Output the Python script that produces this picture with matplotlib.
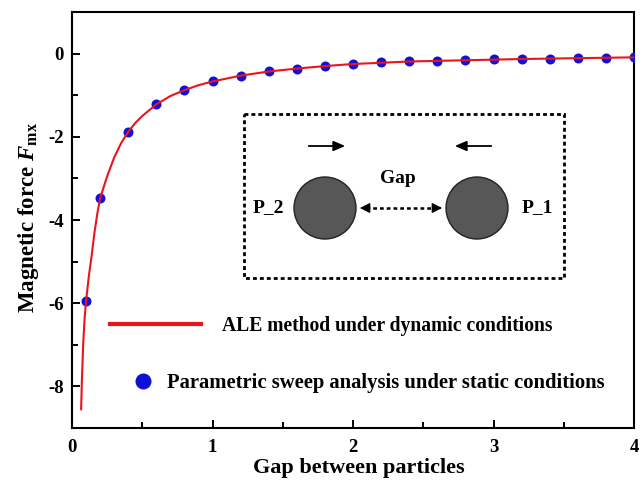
import matplotlib
matplotlib.use("Agg")
import matplotlib.pyplot as plt
from matplotlib.patches import Rectangle, Circle
from matplotlib.ticker import MultipleLocator

plt.rcParams['font.family'] = ['Liberation Serif', 'DejaVu Serif']
plt.rcParams['font.weight'] = 'bold'
plt.rcParams['axes.unicode_minus'] = False
plt.rcParams['mathtext.fontset'] = 'custom'
plt.rcParams['mathtext.rm'] = 'Liberation Serif:bold'
plt.rcParams['mathtext.bf'] = 'Liberation Serif:bold'
plt.rcParams['mathtext.it'] = 'Liberation Serif:italic:bold'

# ALE method (continuous curve) values
ale_gap = [0.065, 0.07, 0.08, 0.09, 0.1, 0.12, 0.14, 0.16, 0.18, 0.2, 0.25, 0.3,
           0.35, 0.4, 0.45, 0.5, 0.6, 0.7, 0.8, 0.9, 1.0, 1.2, 1.4, 1.6, 1.8, 2.0,
           2.4, 2.8, 3.2, 3.6, 4.0]
ale_force = [-8.55, -7.9, -6.95, -6.35, -5.95, -5.35, -4.85, -4.3, -3.85, -3.48,
             -2.95, -2.5, -2.15, -1.88, -1.67, -1.5, -1.22, -1.02, -0.88, -0.76,
             -0.67, -0.53, -0.43, -0.36, -0.30, -0.25, -0.19, -0.16, -0.13, -0.11, -0.09]

# Parametric sweep points
sweep_gap = [0.1, 0.2, 0.4, 0.6, 0.8, 1.0, 1.2, 1.4, 1.6, 1.8, 2.0, 2.2, 2.4, 2.6,
             2.8, 3.0, 3.2, 3.4, 3.6, 3.8, 4.0]
sweep_force = [-5.95, -3.48, -1.88, -1.22, -0.88, -0.67, -0.53, -0.43, -0.36, -0.29,
               -0.25, -0.21, -0.18, -0.17, -0.16, -0.14, -0.13, -0.13, -0.11, -0.10, -0.09]

W, H = 642, 486
fig = plt.figure(figsize=(W / 100, H / 100), dpi=100)
ax = fig.add_axes([72 / W, 1 - 428 / H, (634 - 72) / W, (428 - 12) / H])

pts, = ax.plot(sweep_gap, sweep_force, 'o', color='#1010d8', markersize=7.2,
               markeredgewidth=0, zorder=3,
               label='Parametric sweep analysis under static conditions')
line, = ax.plot(ale_gap, ale_force, '-', color='#e8161b', lw=1.5, zorder=4,
                label='ALE method under dynamic conditions')

ax.set_xlim(0, 4)
ax.set_ylim(-9, 1)
ax.xaxis.set_major_locator(MultipleLocator(1))
ax.xaxis.set_minor_locator(MultipleLocator(0.5))
ax.yaxis.set_major_locator(MultipleLocator(2))
ax.yaxis.set_minor_locator(MultipleLocator(1))
ax.tick_params(which='both', direction='in', width=1.4, labelsize=13.5)
ax.tick_params(which='major', length=6)
ax.tick_params(which='minor', length=4)
ax.tick_params(axis='x', which='major', pad=8)
ax.tick_params(axis='y', which='major', pad=6)
for s in ax.spines.values():
    s.set_linewidth(1.5)

ax.set_xlabel('Gap between particles', fontsize=16, fontweight='bold')
ax.set_ylabel(r'Magnetic force $\mathit{F}_{\mathbf{mx}}$', fontsize=16.5, fontweight='bold')
ax.xaxis.set_label_coords(0.51, -0.073)
ax.yaxis.set_label_coords(-0.056, 0.505)

# Legends
leg1 = ax.legend(handles=[line], loc='center left', frameon=False,
                 handlelength=4.65, handletextpad=1.05, borderpad=0, borderaxespad=0,
                 bbox_to_anchor=(110 / W, 1 - 326 / H), bbox_transform=fig.transFigure,
                 prop={'weight': 'bold', 'size': 14.1})
leg1.get_lines()[0].set_linewidth(3)
ax.add_artist(leg1)
leg2 = ax.legend(handles=[pts], loc='center left', frameon=False,
                 handlelength=0.92, handletextpad=0.72, borderpad=0, borderaxespad=0,
                 markerscale=1.6,
                 bbox_to_anchor=(133 / W, 1 - 383 / H), bbox_transform=fig.transFigure,
                 prop={'weight': 'bold', 'size': 14.9})

# Inset schematic (pixel coordinates)
x0, x1, y0, y1 = 240, 568, 110, 281
ins = fig.add_axes([x0 / W, 1 - y1 / H, (x1 - x0) / W, (y1 - y0) / H])
ins.set_xlim(x0, x1)
ins.set_ylim(y1, y0)
ins.axis('off')
ins.add_patch(Rectangle((244, 114), 320, 164, fill=False, ec='black', lw=2,
                        linestyle=(0, (1.4, 1.1))))
ins.add_patch(Circle((325, 208), 31, fc='#575757', ec='#222222', lw=1))
ins.add_patch(Circle((477, 208), 31, fc='#575757', ec='#222222', lw=1))
ins.plot([366, 435], [208, 208], color='black', lw=1.8, linestyle=(0, (1.5, 1.2)))
ins.annotate('', xy=(357, 208), xytext=(370, 208),
             arrowprops=dict(arrowstyle='-|>,head_length=0.6,head_width=0.3', color='black', lw=1))
ins.annotate('', xy=(445, 208), xytext=(432, 208),
             arrowprops=dict(arrowstyle='-|>,head_length=0.6,head_width=0.3', color='black', lw=1))
ins.annotate('', xy=(348, 146), xytext=(306, 146),
             arrowprops=dict(arrowstyle='-|>,head_length=0.7,head_width=0.3', color='black', lw=1.3))
ins.annotate('', xy=(452, 146), xytext=(494, 146),
             arrowprops=dict(arrowstyle='-|>,head_length=0.7,head_width=0.3', color='black', lw=1.3))
ins.text(398, 178, 'Gap', ha='center', va='center', fontsize=14, fontweight='bold')
ins.text(268, 208, 'P_2', ha='center', va='center', fontsize=14, fontweight='bold')
ins.text(537, 208, 'P_1', ha='center', va='center', fontsize=14, fontweight='bold')

fig.savefig('out.png', dpi=100)
